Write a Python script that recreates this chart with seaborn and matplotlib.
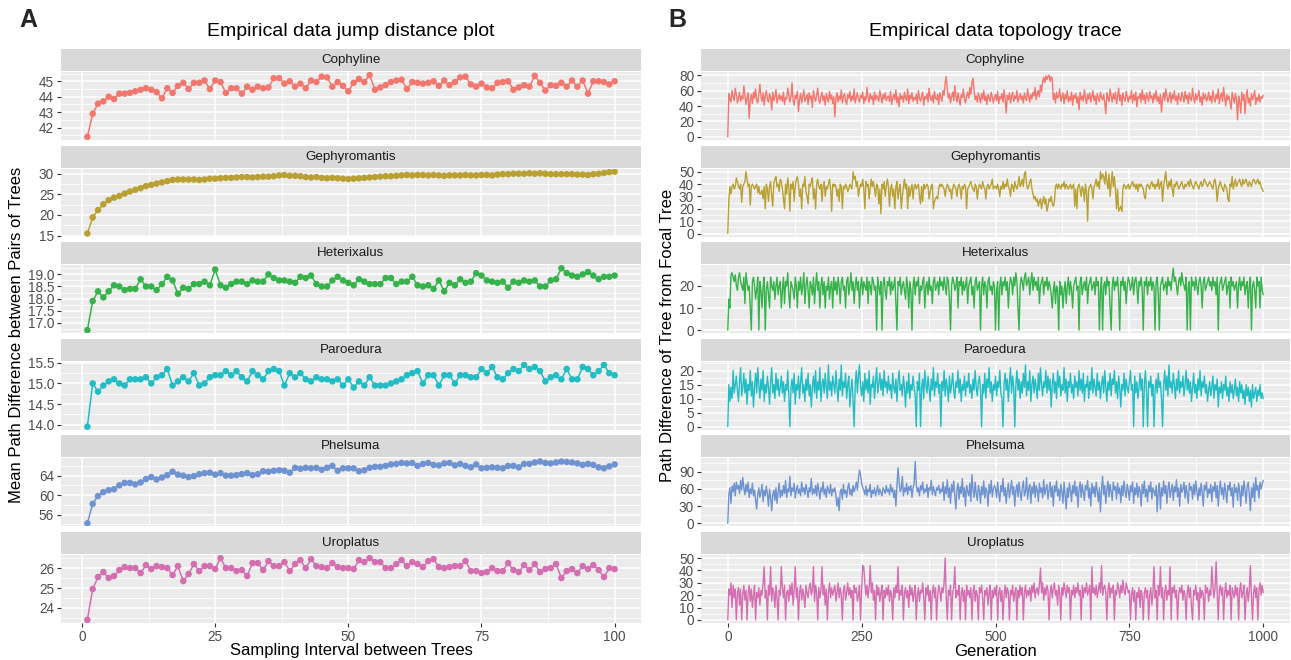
import matplotlib
matplotlib.use("Agg")
import matplotlib.pyplot as plt
import seaborn as sns
import pandas as pd
from matplotlib.ticker import FixedLocator, FormatStrFormatter

# ---------------------------------------------------------------- data
taxa = ["Cophyline", "Gephyromantis", "Heterixalus", "Paroedura", "Phelsuma", "Uroplatus"]
taxon_colors = ["#F2776E", "#B9A033", "#35B34A", "#22BDC4", "#6E93D0", "#D46EB1"]

interval = list(range(1, 101))

jump_cophyline = [
    41.4, 42.9, 43.55, 43.7, 44.0, 43.85, 44.2, 44.2, 44.25, 44.35,
    44.45, 44.55, 44.45, 44.3, 43.9, 44.55, 44.25, 44.7, 44.9, 44.5,
    44.9, 44.9, 45.05, 44.5, 45.05, 44.95, 44.25, 44.55, 44.55, 44.2,
    44.65, 44.45, 44.65, 44.55, 44.6, 45.2, 45.2, 44.85, 45.0, 44.65,
    44.85, 44.55, 45.05, 44.95, 45.3, 45.25, 44.65, 44.95, 44.7, 44.35,
    44.9, 45.15, 44.95, 45.4, 44.45, 44.6, 44.75, 44.95, 45.05, 45.1,
    44.5, 44.95, 44.9, 44.85, 44.9, 45.0, 44.7, 45.05, 44.75, 44.95,
    45.25, 45.3, 44.8, 44.65, 44.85, 44.6, 44.55, 44.9, 44.95, 45.0,
    44.45, 44.6, 44.75, 44.65, 45.35, 44.9, 44.4, 44.75, 44.7, 44.9,
    44.65, 45.05, 44.65, 45.05, 44.2, 45.0, 45.0, 44.95, 44.8, 45.0,
]
jump_gephyromantis = [
    15.5, 19.4, 21.2, 22.6, 23.6, 24.2, 24.6, 25.2, 25.7, 26.1,
    26.5, 27.0, 27.3, 27.6, 27.9, 28.2, 28.5, 28.6, 28.6, 28.6,
    28.6, 28.5, 28.6, 28.8, 28.8, 28.9, 29.0, 29.0, 29.1, 29.2,
    29.2, 29.1, 29.2, 29.3, 29.3, 29.4, 29.6, 29.7, 29.5, 29.5,
    29.4, 29.2, 29.1, 29.2, 29.0, 28.9, 29.0, 28.9, 28.8, 28.7,
    28.8, 28.9, 29.0, 29.1, 29.2, 29.3, 29.4, 29.4, 29.5, 29.6,
    29.7, 29.6, 29.7, 29.7, 29.6, 29.7, 29.6, 29.5, 29.6, 29.6,
    29.6, 29.7, 29.6, 29.6, 29.7, 29.7, 29.6, 29.8, 29.9, 29.9,
    30.0, 30.0, 30.0, 30.1, 30.0, 30.1, 30.0, 29.9, 29.9, 29.9,
    29.9, 29.9, 29.8, 29.8, 29.7, 29.9, 30.0, 30.2, 30.4, 30.5,
]
jump_heterixalus = [
    16.7, 17.9, 18.3, 18.05, 18.3, 18.55, 18.5, 18.35, 18.4, 18.4,
    18.8, 18.5, 18.5, 18.35, 18.6, 18.9, 18.75, 18.2, 18.45, 18.4,
    18.6, 18.6, 18.7, 18.55, 19.2, 18.55, 18.45, 18.6, 18.7, 18.7,
    18.6, 18.75, 18.7, 18.7, 19.0, 18.85, 18.75, 18.75, 18.7, 18.65,
    18.9, 18.85, 18.95, 18.6, 18.5, 18.5, 18.75, 18.9, 18.75, 18.65,
    18.55, 18.8, 18.7, 18.6, 18.6, 18.6, 18.85, 18.85, 18.6, 18.7,
    18.7, 18.9, 18.55, 18.5, 18.55, 18.4, 18.75, 18.3, 18.65, 18.55,
    18.8, 18.65, 18.7, 19.05, 18.95, 18.75, 18.7, 18.65, 18.7, 18.45,
    18.7, 18.65, 18.75, 18.7, 18.75, 18.5, 18.5, 18.75, 18.8, 19.25,
    19.05, 18.95, 18.9, 19.0, 19.1, 18.95, 18.8, 18.9, 18.9, 18.95,
]
jump_paroedura = [
    13.95, 15.0, 14.8, 14.95, 15.05, 15.1, 15.0, 14.95, 15.1, 15.1,
    15.1, 15.15, 15.0, 15.15, 15.2, 15.35, 14.95, 15.05, 15.15, 15.05,
    15.25, 14.95, 15.0, 15.15, 15.2, 15.2, 15.3, 15.2, 15.3, 15.15,
    15.05, 15.3, 15.2, 15.1, 15.3, 15.35, 15.3, 14.95, 15.25, 15.15,
    15.25, 15.1, 15.05, 15.15, 15.1, 15.1, 15.05, 15.1, 14.95, 15.1,
    14.9, 15.05, 14.95, 15.15, 14.95, 14.95, 14.95, 15.0, 15.05, 15.1,
    15.2, 15.25, 15.3, 15.0, 15.2, 15.2, 14.95, 15.2, 15.2, 15.0,
    15.2, 15.2, 15.15, 15.15, 15.35, 15.25, 15.4, 15.15, 15.1, 15.25,
    15.35, 15.3, 15.45, 15.35, 15.4, 15.3, 15.05, 15.15, 15.2, 15.1,
    15.35, 15.1, 15.1, 15.4, 15.35, 15.2, 15.3, 15.45, 15.25, 15.2,
]
jump_phelsuma = [
    54.2, 58.2, 59.8, 60.6, 61.0, 61.2, 62.0, 62.5, 62.5, 62.2,
    62.6, 63.3, 63.7, 63.2, 63.6, 64.1, 64.8, 64.2, 64.0, 63.7,
    63.9, 64.3, 64.5, 64.6, 64.2, 64.5, 64.0, 64.0, 64.1, 64.3,
    64.5, 64.1, 64.3, 64.9, 64.8, 65.0, 65.1, 65.0, 64.6, 65.6,
    65.4, 65.6, 65.5, 65.6, 65.2, 65.6, 66.0, 65.0, 65.5, 65.5,
    65.5, 64.9, 65.1, 65.6, 65.8, 65.8, 66.0, 66.3, 66.4, 66.6,
    66.5, 66.6, 66.0, 66.4, 66.6, 66.2, 66.1, 66.5, 66.6, 66.1,
    66.4, 66.0, 65.7, 66.3, 65.5, 65.6, 65.7, 65.6, 65.5, 66.0,
    66.0, 65.7, 66.4, 66.4, 66.7, 66.9, 66.6, 66.5, 66.7, 66.9,
    66.8, 66.7, 66.5, 66.2, 66.4, 66.2, 65.7, 65.5, 65.9, 66.3,
]
jump_uroplatus = [
    23.4, 24.95, 25.55, 25.8, 25.5, 25.6, 25.9, 26.05, 26.0, 26.0,
    25.75, 26.15, 25.95, 26.1, 26.05, 26.0, 25.65, 26.1, 25.35, 25.7,
    26.2, 25.85, 26.1, 26.1, 25.95, 26.5, 26.0, 26.0, 25.85, 25.9,
    25.6, 26.25, 26.25, 25.9, 26.35, 26.1, 26.1, 26.3, 25.85, 26.2,
    26.4, 26.0, 26.45, 26.1, 26.05, 26.0, 26.25, 26.05, 26.0, 26.0,
    25.95, 26.4, 26.3, 26.5, 26.3, 26.3, 26.0, 26.0, 26.2, 26.4,
    26.1, 26.3, 26.2, 26.05, 26.35, 26.45, 26.05, 26.0, 26.05, 26.1,
    26.1, 26.35, 25.85, 25.85, 25.75, 25.8, 26.0, 25.85, 25.85, 26.25,
    25.9, 25.8, 26.15, 25.9, 26.2, 25.8, 25.95, 26.0, 26.2, 25.5,
    25.85, 25.95, 25.75, 26.1, 25.95, 26.15, 25.9, 25.55, 26.0, 25.95,
]

# topology traces, one value every second generation (0, 2, ..., 1000)
generation = list(range(0, 1001, 2))

trace_cophyline = [
    0, 56, 50, 45, 60, 52, 47, 63, 55, 44, 50, 58, 46, 53, 49, 66, 54, 42, 51, 57, 24, 48, 55, 43, 58,
    50, 62, 47, 44, 55, 68, 52, 46, 57, 41, 53, 60, 49, 45, 56, 51, 35, 58, 47, 52, 61, 44, 50, 55, 48,
    53, 46, 58, 42, 51, 49, 63, 55, 45, 52, 70, 47, 41, 54, 50, 59, 33, 48, 56, 44, 52, 61, 46, 50, 55,
    42, 57, 49, 53, 38, 60, 51, 46, 55, 63, 48, 44, 52, 58, 47, 53, 41, 56, 50, 45, 59, 49, 54, 43, 52,
    26, 50, 57, 45, 53, 48, 61, 44, 52, 56, 47, 42, 55, 50, 59, 46, 53, 48, 62, 44, 51, 57, 49, 45, 54,
    50, 58, 43, 52, 47, 64, 51, 45, 56, 49, 53, 42, 58, 48, 54, 50, 46, 60, 52, 44, 55, 49, 57, 47, 51,
    53, 46, 59, 42, 50, 55, 48, 61, 44, 52, 39, 56, 49, 53, 45, 58, 50, 47, 62, 43, 54, 49, 57, 46, 51,
    48, 55, 43, 60, 50, 46, 53, 58, 41, 52, 49, 56, 45, 63, 51, 47, 54, 44, 59, 50, 48, 55, 42, 57, 52,
    46, 60, 54, 70, 78, 62, 50, 56, 44, 52, 58, 47, 66, 53, 45, 57, 49, 41, 55, 51, 62, 48, 44, 53, 58,
    50, 64, 55, 70, 76, 60, 48, 53, 45, 57, 51, 44, 56, 49, 60, 47, 53, 42, 55, 50, 46, 58, 52, 44, 51,
    55, 47, 59, 43, 52, 49, 56, 45, 61, 50, 31, 54, 48, 57, 44, 52, 58, 46, 53, 49, 60, 45, 51, 56, 48,
    53, 44, 57, 50, 47, 62, 52, 45, 55, 49, 58, 53, 64, 48, 56, 60, 52, 67, 58, 72, 77, 70, 79, 74, 78,
    80, 72, 78, 75, 48, 56, 44, 58, 50, 53, 62, 46, 51, 57, 43, 55, 49, 60, 45, 52, 47, 58, 41, 54, 50,
    56, 44, 52, 35, 58, 48, 53, 46, 61, 50, 43, 55, 49, 57, 45, 52, 60, 47, 53, 42, 56, 50, 46, 58, 51,
    48, 55, 44, 30, 57, 50, 46, 62, 53, 45, 56, 49, 58, 43, 52, 63, 47, 54, 41, 57, 50, 46, 59, 52, 45,
    53, 49, 60, 44, 55, 47, 58, 39, 52, 50, 56, 45, 61, 48, 54, 43, 57, 51, 46, 59, 50, 53, 44, 56, 49,
    60, 46, 52, 43, 55, 32, 50, 57, 47, 62, 53, 45, 51, 58, 44, 55, 49, 60, 47, 53, 42, 56, 50, 46, 58,
    52, 45, 59, 49, 54, 43, 57, 50, 47, 63, 51, 44, 56, 48, 53, 60, 45, 52, 41, 57, 49, 55, 46, 50, 58,
    47, 53, 44, 60, 50, 45, 55, 49, 62, 43, 52, 57, 46, 64, 51, 40, 55, 48, 53, 45, 36, 58, 50, 44, 56,
    49, 22, 53, 45, 31, 58, 47, 55, 30, 52, 61, 44, 50, 40, 56, 48, 53, 60, 42, 51, 47, 55, 45, 52, 50,
    54,
]
trace_gephyromantis = [
    0, 27, 38, 32, 38, 40, 36, 38, 45, 42, 38, 36, 40, 25, 38, 40, 42, 50, 44, 38, 40, 23, 38, 40, 38,
    36, 38, 40, 33, 38, 32, 32, 35, 28, 38, 20, 40, 36, 26, 38, 42, 30, 22, 40, 44, 46, 38, 40, 34, 44,
    42, 36, 28, 20, 40, 32, 45, 38, 18, 40, 36, 42, 26, 38, 44, 46, 40, 30, 36, 20, 40, 38, 46, 34, 30,
    24, 40, 38, 42, 45, 28, 36, 20, 40, 44, 38, 36, 40, 26, 38, 42, 30, 38, 36, 40, 44, 36, 18, 40, 38,
    40, 38, 30, 36, 26, 40, 38, 20, 38, 36, 40, 38, 34, 36, 40, 38, 36, 50, 44, 46, 38, 42, 30, 36, 40,
    38, 44, 36, 20, 42, 38, 40, 28, 36, 44, 38, 42, 36, 30, 40, 38, 24, 36, 16, 40, 36, 42, 30, 38, 44,
    38, 22, 36, 40, 30, 36, 20, 38, 42, 28, 36, 40, 20, 30, 38, 44, 36, 40, 20, 38, 30, 36, 40, 28, 38,
    40, 36, 38, 40, 30, 24, 38, 26, 40, 36, 38, 40, 38, 28, 34, 38, 40, 20, 26, 28, 30, 28, 36, 40, 38,
    40, 38, 36, 30, 36, 40, 38, 34, 36, 28, 36, 40, 38, 36, 30, 38, 40, 36, 28, 38, 36, 40, 38, 20, 36,
    38, 40, 42, 38, 36, 34, 40, 38, 28, 36, 40, 38, 36, 42, 38, 36, 28, 38, 40, 36, 38, 40, 44, 36, 38,
    38, 36, 40, 36, 30, 38, 36, 42, 36, 40, 38, 44, 38, 36, 30, 40, 38, 34, 42, 38, 36, 40, 46, 38, 40,
    44, 38, 48, 50, 40, 36, 38, 42, 44, 36, 32, 28, 30, 26, 28, 22, 26, 28, 20, 26, 30, 24, 28, 18, 22,
    28, 26, 30, 24, 22, 26, 38, 40, 36, 40, 38, 36, 40, 38, 42, 36, 40, 38, 36, 38, 40, 36, 38, 40, 22,
    36, 20, 38, 40, 36, 30, 38, 36, 26, 40, 34, 10, 36, 38, 40, 36, 28, 38, 40, 44, 38, 42, 36, 50, 44,
    48, 46, 40, 50, 42, 36, 48, 30, 40, 50, 38, 46, 36, 20, 36, 18, 20, 22, 18, 36, 40, 38, 36, 38, 40,
    36, 38, 40, 42, 38, 40, 36, 40, 34, 40, 38, 40, 38, 36, 30, 28, 38, 40, 38, 36, 40, 42, 38, 40, 36,
    40, 38, 44, 36, 40, 42, 26, 38, 44, 50, 40, 36, 42, 38, 44, 36, 30, 40, 38, 42, 40, 36, 38, 40, 42,
    38, 36, 40, 38, 40, 42, 38, 44, 40, 38, 36, 40, 42, 40, 38, 36, 40, 42, 38, 40, 44, 42, 40, 38, 40,
    42, 40, 38, 36, 42, 44, 38, 26, 36, 40, 42, 38, 36, 34, 40, 38, 36, 28, 26, 40, 38, 46, 36, 40, 44,
    38, 40, 42, 44, 40, 38, 44, 40, 42, 44, 40, 38, 42, 40, 38, 42, 44, 42, 40, 42, 44, 40, 42, 38, 36,
    34,
]
trace_heterixalus = [
    0, 14, 10, 25, 26, 24, 22, 25, 20, 18, 24, 26, 22, 20, 18, 24, 12, 26, 22, 18, 20, 10, 0, 22, 24,
    20, 14, 18, 24, 0, 22, 18, 10, 20, 24, 0, 18, 22, 16, 10, 24, 20, 18, 22, 14, 20, 24, 16, 20, 22,
    10, 18, 24, 12, 22, 20, 26, 16, 10, 22, 20, 18, 14, 24, 20, 10, 22, 18, 24, 16, 20, 26, 12, 20, 24,
    18, 10, 22, 20, 16, 24, 12, 20, 26, 18, 22, 10, 20, 24, 16, 22, 10, 20, 18, 24, 14, 20, 22, 10, 24,
    18, 22, 16, 24, 20, 12, 22, 24, 18, 20, 10, 22, 24, 16, 20, 26, 18, 22, 12, 20, 24, 18, 22, 10, 20,
    24, 16, 22, 20, 18, 24, 12, 22, 20, 16, 24, 22, 18, 20, 0, 24, 20, 16, 22, 0, 20, 24, 18, 14, 22,
    20, 24, 16, 22, 18, 20, 24, 12, 0, 22, 20, 24, 16, 20, 22, 18, 14, 24, 20, 10, 22, 18, 0, 20, 24,
    16, 22, 20, 24, 12, 20, 18, 22, 24, 10, 20, 22, 16, 24, 18, 20, 12, 22, 24, 18, 20, 22, 16, 24, 20,
    22, 18, 24, 20, 16, 24, 22, 14, 0, 20, 24, 22, 18, 20, 24, 10, 22, 20, 24, 16, 22, 18, 20, 24, 12,
    20, 22, 24, 16, 20, 10, 22, 24, 18, 20, 22, 0, 20, 24, 16, 22, 20, 10, 22, 24, 18, 20, 16, 22, 20,
    0, 18, 22, 0, 20, 24, 16, 22, 20, 24, 18, 22, 10, 20, 24, 22, 16, 24, 20, 26, 22, 10, 0, 20, 24,
    22, 18, 24, 26, 20, 22, 24, 16, 22, 26, 18, 24, 20, 22, 18, 24, 12, 20, 22, 24, 16, 22, 20, 24, 18,
    22, 20, 16, 10, 18, 22, 12, 20, 18, 0, 22, 16, 20, 10, 18, 22, 12, 20, 24, 16, 22, 18, 10, 20, 22,
    24, 18, 20, 0, 22, 24, 16, 20, 22, 18, 24, 12, 20, 22, 24, 18, 20, 22, 16, 24, 20, 22, 0, 18, 24,
    0, 20, 22, 16, 24, 20, 22, 10, 0, 20, 24, 18, 22, 20, 24, 16, 0, 22, 20, 24, 18, 22, 12, 20, 24,
    22, 18, 20, 24, 16, 22, 24, 20, 12, 22, 20, 24, 18, 0, 22, 20, 24, 16, 22, 20, 24, 18, 22, 20, 0,
    22, 24, 16, 0, 20, 22, 24, 18, 20, 22, 16, 24, 20, 22, 18, 24, 28, 22, 24, 20, 16, 22, 24, 20, 26,
    22, 20, 18, 24, 0, 20, 22, 0, 24, 20, 22, 18, 24, 20, 16, 22, 24, 20, 10, 22, 24, 18, 20, 22, 24,
    20, 22, 18, 24, 20, 22, 16, 24, 0, 20, 22, 24, 18, 20, 22, 24, 16, 20, 22, 10, 24, 20, 22, 18, 20,
    22, 10, 20, 24, 18, 22, 20, 24, 16, 20, 22, 10, 20, 24, 0, 20, 22, 18, 10, 24, 20, 22, 10, 24, 18,
    16,
]
trace_paroedura = [
    0, 15, 9, 14, 10, 20, 12, 15, 18, 13, 9, 16, 21, 11, 14, 19, 12, 17, 8, 15, 13, 20, 11, 16, 7,
    14, 19, 12, 21, 15, 10, 17, 13, 20, 9, 15, 12, 18, 14, 8, 16, 21, 12, 15, 10, 19, 13, 17, 11, 14,
    18, 12, 16, 9, 15, 13, 20, 11, 0, 14, 17, 12, 19, 8, 15, 13, 18, 10, 16, 21, 12, 15, 9, 17, 13,
    19, 11, 15, 7, 14, 18, 12, 20, 10, 16, 13, 21, 9, 15, 17, 12, 19, 14, 10, 22, 13, 16, 11, 18, 15,
    12, 20, 14, 9, 17, 13, 22, 11, 16, 14, 19, 10, 15, 18, 7, 13, 17, 9, 0, 15, 20, 12, 18, 22, 14,
    11, 16, 9, 19, 13, 17, 12, 20, 8, 15, 14, 18, 10, 16, 21, 12, 15, 19, 13, 17, 11, 20, 14, 16, 12,
    18, 13, 15, 10, 19, 14, 12, 17, 9, 16, 20, 13, 15, 11, 18, 14, 7, 16, 12, 19, 10, 15, 13, 18, 14,
    11, 0, 16, 13, 19, 0, 14, 17, 10, 20, 15, 12, 18, 14, 9, 17, 13, 21, 11, 16, 14, 19, 12, 15, 0,
    16, 13, 20, 11, 17, 14, 9, 18, 12, 15, 19, 13, 10, 16, 14, 20, 12, 17, 9, 15, 13, 18, 11, 16, 14,
    19, 12, 15, 10, 17, 13, 20, 14, 11, 16, 18, 13, 0, 15, 12, 19, 10, 17, 14, 21, 12, 16, 9, 15, 13,
    18, 11, 16, 14, 20, 12, 10, 0, 15, 19, 13, 17, 9, 16, 21, 12, 18, 14, 0, 15, 20, 13, 17, 10, 16,
    12, 19, 14, 22, 11, 16, 13, 20, 9, 15, 18, 12, 17, 14, 10, 19, 13, 21, 15, 11, 16, 14, 20, 12, 18,
    13, 17, 7, 15, 19, 12, 16, 10, 20, 14, 18, 11, 15, 13, 21, 12, 17, 9, 16, 14, 19, 12, 15, 10, 18,
    14, 16, 11, 20, 13, 17, 12, 19, 9, 15, 14, 18, 10, 16, 13, 21, 12, 17, 14, 11, 19, 13, 16, 10, 15,
    18, 12, 20, 14, 9, 16, 13, 19, 11, 17, 15, 20, 12, 16, 10, 18, 14, 7, 15, 13, 19, 11, 17, 14, 12,
    16, 20, 13, 15, 0, 18, 12, 16, 10, 14, 19, 13, 17, 0, 15, 20, 12, 0, 16, 14, 18, 11, 15, 0, 13,
    17, 12, 19, 14, 16, 10, 0, 15, 20, 13, 18, 11, 22, 14, 16, 12, 19, 15, 10, 17, 13, 20, 12, 16, 14,
    18, 11, 15, 20, 13, 17, 12, 16, 9, 14, 19, 12, 15, 10, 17, 13, 20, 11, 16, 14, 18, 12, 15, 9, 13,
    16, 11, 14, 18, 10, 15, 13, 17, 7, 14, 12, 16, 10, 15, 13, 18, 11, 14, 9, 16, 12, 15, 10, 13, 17,
    11, 14, 9, 16, 12, 15, 10, 13, 8, 15, 11, 14, 9, 13, 7, 15, 10, 12, 14, 9, 13, 11, 15, 10, 12,
    10,
]
trace_phelsuma = [
    0, 50, 62, 35, 65, 55, 70, 48, 72, 60, 66, 52, 75, 58, 80, 62, 50, 68, 55, 72, 45, 60, 52, 70, 48,
    58, 40, 25, 50, 62, 45, 55, 68, 38, 58, 48, 65, 52, 30, 60, 45, 22, 50, 58, 40, 62, 35, 55, 70, 45,
    58, 48, 66, 52, 75, 45, 60, 55, 82, 48, 62, 56, 70, 44, 58, 66, 52, 60, 48, 72, 55, 62, 50, 68, 58,
    45, 62, 55, 78, 50, 60, 52, 66, 48, 70, 58, 42, 62, 55, 72, 50, 60, 45, 65, 58, 52, 68, 48, 60, 55,
    62, 48, 30, 45, 22, 55, 60, 42, 68, 52, 58, 45, 62, 70, 50, 60, 48, 66, 55, 62, 72, 58, 78, 93, 85,
    70, 62, 58, 50, 65, 48, 60, 55, 68, 45, 58, 52, 62, 48, 56, 66, 50, 60, 54, 48, 62, 58, 52, 66, 55,
    60, 50, 68, 55, 62, 45, 58, 30, 66, 97, 72, 55, 60, 82, 48, 62, 55, 70, 50, 64, 58, 66, 45, 62, 70,
    108, 68, 55, 62, 48, 66, 58, 72, 52, 60, 55, 68, 45, 62, 58, 75, 50, 64, 56, 48, 62, 58, 66, 52, 60,
    55, 72, 40, 64, 52, 76, 45, 62, 35, 68, 55, 74, 48, 25, 60, 70, 42, 64, 52, 78, 46, 62, 30, 66, 56,
    48, 70, 38, 85, 60, 45, 72, 52, 40, 66, 58, 35, 64, 50, 74, 44, 62, 56, 30, 68, 52, 75, 46, 60, 66,
    60, 45, 72, 52, 38, 66, 55, 78, 48, 62, 35, 58, 70, 44, 60, 75, 50, 64, 30, 58, 68, 46, 72, 55, 40,
    62, 74, 48, 56, 80, 42, 60, 68, 35, 64, 52, 72, 45, 66, 58, 38, 70, 54, 62, 44, 76, 50, 60, 68, 42,
    58, 72, 46, 64, 30, 66, 55, 74, 48, 60, 40, 68, 56, 35, 72, 50, 25, 62, 45, 70, 58, 38, 66, 52, 74,
    48, 64, 28, 60, 72, 45, 68, 55, 40, 66, 58, 75, 44, 62, 30, 70, 52, 64, 46, 72, 56, 38, 62, 20, 58,
    82, 50, 66, 35, 60, 74, 46, 68, 55, 40, 72, 58, 64, 42, 70, 52, 62, 36, 66, 48, 74, 56, 45, 68, 58,
    40, 66, 55, 72, 35, 62, 50, 70, 45, 64, 58, 30, 68, 52, 74, 46, 60, 38, 66, 55, 72, 42, 62, 56, 48,
    66, 20, 58, 70, 25, 62, 48, 74, 52, 66, 35, 60, 72, 45, 58, 68, 40, 64, 55, 76, 46, 62, 30, 68, 54,
    60, 72, 44, 66, 52, 35, 70, 58, 64, 42, 68, 50, 74, 56, 40, 62, 48, 70, 55, 30, 66, 58, 72, 45, 60,
    52, 68, 38, 64, 56, 72, 44, 66, 30, 60, 74, 50, 62, 42, 70, 55, 36, 66, 58, 72, 48, 62, 28, 68, 54,
    62, 40, 70, 56, 30, 66, 48, 74, 58, 35, 64, 72, 50, 22, 62, 45, 70, 38, 80, 58, 66, 44, 72, 60, 68,
    75,
]
trace_uroplatus = [
    0, 25, 20, 30, 10, 28, 18, 25, 0, 22, 26, 12, 25, 0, 20, 28, 16, 24, 0, 22, 28, 15, 25, 10, 20,
    28, 0, 22, 18, 26, 12, 24, 20, 30, 43, 18, 24, 0, 28, 20, 43, 15, 26, 22, 10, 28, 18, 0, 24, 20,
    43, 26, 18, 28, 0, 22, 24, 15, 28, 20, 30, 12, 24, 43, 18, 26, 0, 22, 28, 16, 25, 20, 10, 28, 22,
    18, 26, 30, 20, 24, 43, 15, 28, 22, 0, 26, 18, 24, 43, 20, 28, 12, 25, 0, 22, 30, 18, 26, 20, 24,
    28, 15, 22, 30, 18, 26, 20, 0, 24, 28, 16, 22, 30, 20, 26, 18, 24, 0, 28, 22, 26, 15, 20, 28, 0,
    24, 44, 43, 30, 20, 28, 18, 26, 44, 22, 30, 16, 24, 0, 28, 20, 26, 15, 22, 28, 0, 24, 18, 26, 20,
    28, 15, 24, 20, 0, 26, 18, 28, 22, 43, 16, 24, 20, 28, 0, 22, 26, 18, 24, 10, 28, 20, 26, 15, 22,
    28, 0, 20, 26, 15, 24, 22, 30, 18, 0, 26, 20, 28, 15, 24, 0, 22, 28, 18, 26, 0, 20, 28, 24, 15,
    26, 22, 30, 50, 18, 0, 24, 20, 28, 0, 22, 26, 43, 18, 24, 20, 28, 0, 22, 26, 15, 24, 0, 28, 20,
    24, 18, 26, 0, 22, 28, 15, 24, 20, 0, 26, 22, 28, 18, 0, 24, 20, 26, 12, 22, 28, 0, 24, 18, 26,
    20, 28, 0, 22, 26, 15, 24, 0, 20, 28, 18, 26, 22, 0, 24, 20, 28, 15, 22, 26, 0, 24, 18, 28, 20,
    26, 0, 22, 28, 18, 24, 20, 26, 15, 28, 22, 30, 18, 24, 26, 20, 28, 42, 22, 30, 16, 26, 20, 28, 24,
    0, 22, 28, 18, 26, 30, 20, 24, 12, 28, 22, 0, 26, 20, 30, 24, 18, 28, 22, 26, 0, 24, 20, 28, 18,
    26, 22, 30, 20, 24, 0, 28, 18, 26, 22, 30, 20, 24, 28, 0, 43, 22, 26, 20, 28, 18, 24, 30, 22, 44,
    20, 26, 28, 22, 0, 24, 30, 18, 26, 22, 28, 0, 24, 20, 30, 26, 18, 28, 22, 32, 24, 20, 30, 26, 22,
    24, 0, 20, 26, 15, 24, 0, 22, 18, 26, 10, 24, 20, 0, 22, 26, 18, 24, 0, 20, 26, 12, 22, 43, 18,
    24, 0, 28, 20, 43, 18, 26, 0, 22, 28, 16, 24, 20, 43, 0, 26, 22, 28, 18, 24, 0, 20, 26, 22, 28,
    16, 24, 20, 0, 22, 28, 18, 26, 10, 0, 24, 20, 28, 16, 22, 0, 26, 18, 24, 20, 0, 28, 22, 26, 15,
    24, 20, 43, 28, 18, 26, 47, 22, 0, 24, 28, 20, 26, 0, 22, 30, 18, 24, 20, 28, 0, 26, 22, 18, 28,
    20, 26, 0, 24, 30, 18, 22, 28, 0, 20, 26, 15, 24, 44, 20, 0, 22, 28, 18, 26, 0, 24, 30, 20, 28,
    22,
]

jump_series = [jump_cophyline, jump_gephyromantis, jump_heterixalus,
               jump_paroedura, jump_phelsuma, jump_uroplatus]
trace_series = [trace_cophyline, trace_gephyromantis, trace_heterixalus,
                trace_paroedura, trace_phelsuma, trace_uroplatus]

jump_yticks = [[42, 43, 44, 45], [15, 20, 25, 30], [17.0, 17.5, 18.0, 18.5, 19.0],
               [14.0, 14.5, 15.0, 15.5], [56, 60, 64], [24, 25, 26]]
jump_fmt = ["%d", "%d", "%.1f", "%.1f", "%d", "%d"]
trace_yticks = [[0, 20, 40, 60, 80], [0, 10, 20, 30, 40, 50], [0, 10, 20, 30],
                [0, 5, 10, 15, 20], [0, 30, 60, 90], [0, 10, 20, 30, 40, 50]]
jump_xticks = [0, 25, 50, 75, 100]
trace_xticks = [0, 250, 500, 750, 1000]

for name, vals in zip(taxa, trace_series):
    if len(vals) != len(generation):
        raise ValueError(f"{name}: {len(vals)} values for {len(generation)} generations")

# ---------------------------------------------------------------- style
sns.set_theme(style="darkgrid")
plt.rcParams["font.family"] = ["Liberation Sans", "DejaVu Sans"]

W, H = 1291, 660
fig = plt.figure(figsize=(W / 100, H / 100), dpi=100)
fig.patch.set_facecolor("white")

STRIP_H = 22
PANEL_H = 68
PITCH = 96.6
TOP = 49


def px_axes(x0, y0, w, h):
    return fig.add_axes([x0 / W, 1 - (y0 + h) / H, w / W, h / H])


def minor_between(ticks):
    step = ticks[1] - ticks[0]
    return [t - step / 2 for t in ticks] + [ticks[-1] + step / 2]


def expanded(lo, hi):
    r = hi - lo
    return lo - 0.05 * r, hi + 0.05 * r


def style_panel(ax, yticks, fmt, xticks, bottom):
    ax.set_facecolor("#EBEBEB")
    for s in ax.spines.values():
        s.set_visible(False)
    ax.yaxis.set_major_locator(FixedLocator(yticks))
    ax.yaxis.set_minor_locator(FixedLocator(minor_between(yticks)))
    ax.yaxis.set_major_formatter(FormatStrFormatter(fmt))
    ax.xaxis.set_major_locator(FixedLocator(xticks))
    ax.xaxis.set_minor_locator(FixedLocator(minor_between(xticks)))
    ax.grid(which="major", color="white", linewidth=1.1)
    ax.grid(which="minor", color="white", linewidth=0.55)
    ax.set_axisbelow(True)
    ax.tick_params(which="minor", length=0)
    ax.tick_params(axis="y", which="major", length=3, width=0.8, color="#333333",
                   labelcolor="#4D4D4D", labelsize=9.8, pad=2, left=True)
    if bottom:
        ax.tick_params(axis="x", which="major", length=3, width=0.8, color="#333333",
                       labelcolor="#4D4D4D", labelsize=9.8, pad=2, bottom=True)
    else:
        ax.tick_params(axis="x", which="major", length=0, labelbottom=False)
    ax.set_xlabel("")
    ax.set_ylabel("")


def strip(x0, y0, w, label):
    sax = px_axes(x0, y0, w, STRIP_H)
    sax.set_facecolor("#D9D9D9")
    sax.set_xticks([])
    sax.set_yticks([])
    sax.grid(False)
    for s in sax.spines.values():
        s.set_visible(False)
    sax.text(0.5, 0.5, label, ha="center", va="center", fontsize=9.6,
             color="#1A1A1A", transform=sax.transAxes)


# ---------------------------------------------------------------- panel A
LX, LW = 61, 580
for i, (name, col, vals) in enumerate(zip(taxa, taxon_colors, jump_series)):
    y0 = TOP + i * PITCH
    strip(LX, y0, LW, name)
    ax = px_axes(LX, y0 + STRIP_H + 1, LW, PANEL_H)
    df = pd.DataFrame({"interval": interval, "dist": vals})
    sns.lineplot(data=df, x="interval", y="dist", ax=ax, color=col, linewidth=1.1)
    sns.scatterplot(data=df, x="interval", y="dist", ax=ax, color=col, s=22,
                    linewidth=0, edgecolor="none")
    ax.set_xlim(expanded(1, 100))
    ax.set_ylim(expanded(min(vals), max(vals)))
    style_panel(ax, jump_yticks[i], jump_fmt[i], jump_xticks, i == len(taxa) - 1)

# ---------------------------------------------------------------- panel B
RX, RW = 701, 589
for i, (name, col, vals) in enumerate(zip(taxa, taxon_colors, trace_series)):
    y0 = TOP + i * PITCH
    strip(RX, y0, RW, name)
    ax = px_axes(RX, y0 + STRIP_H + 1, RW, PANEL_H)
    df = pd.DataFrame({"generation": generation, "pd": vals})
    sns.lineplot(data=df, x="generation", y="pd", ax=ax, color=col, linewidth=1.0)
    ax.set_xlim(expanded(0, 1000))
    ax.set_ylim(expanded(min(vals), max(vals)))
    style_panel(ax, trace_yticks[i], "%d", trace_xticks, i == len(taxa) - 1)

# ---------------------------------------------------------------- titles
fig.text((LX + LW / 2) / W, 1 - 32 / H, "Empirical data jump distance plot",
         ha="center", va="center", fontsize=14, color="black")
fig.text((RX + RW / 2) / W, 1 - 32 / H, "Empirical data topology trace",
         ha="center", va="center", fontsize=14, color="black")
fig.text(28 / W, 1 - 20 / H, "A", ha="center", va="center", fontsize=18,
         fontweight="bold")
fig.text(677 / W, 1 - 20 / H, "B", ha="center", va="center", fontsize=18,
         fontweight="bold")

fig.text((LX + LW / 2) / W, 1 - 651 / H, "Sampling Interval between Trees",
         ha="center", va="center", fontsize=12, color="black")
fig.text((RX + RW / 2) / W, 1 - 651 / H, "Generation",
         ha="center", va="center", fontsize=12, color="black")
fig.text(17 / W, 1 - 335 / H, "Mean Path Difference between Pairs of Trees",
         ha="center", va="center", rotation=90, fontsize=12, color="black")
fig.text(667 / W, 1 - 335 / H, "Path Difference of Tree from Focal Tree",
         ha="center", va="center", rotation=90, fontsize=12, color="black")

fig.savefig("out.png", dpi=100, facecolor="white")
